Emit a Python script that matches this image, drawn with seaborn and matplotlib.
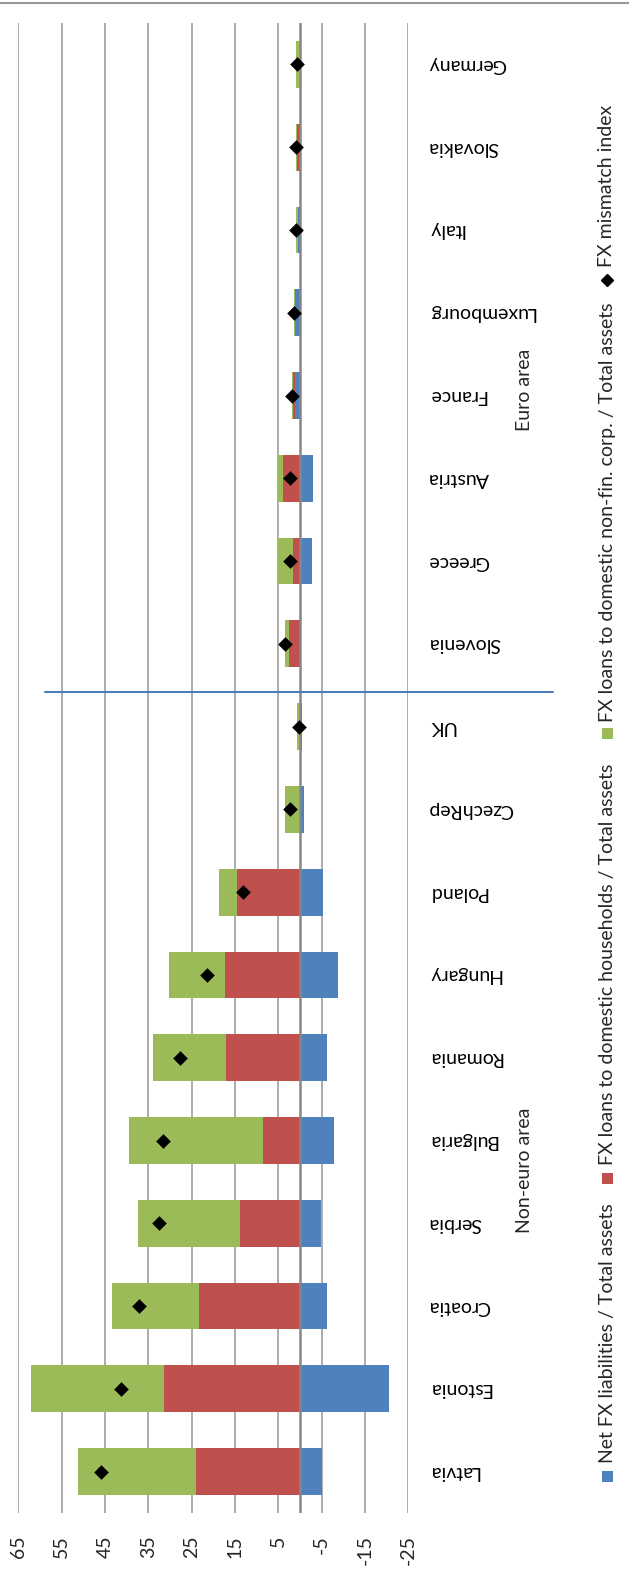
import matplotlib
matplotlib.use("Agg")
import numpy as np
import pandas as pd
import matplotlib.pyplot as plt
import seaborn as sns
from matplotlib.lines import Line2D
from matplotlib.patches import Rectangle

# ---- data (% of total assets) ----
countries = ["Latvia", "Estonia", "Croatia", "Serbia", "Bulgaria", "Romania",
             "Hungary", "Poland", "CzechRep", "UK", "Slovenia", "Greece",
             "Austria", "France", "Luxembourg", "Italy", "Slovakia", "Germany"]
net_fx_liab = [-5.1, -20.6, -6.3, -4.9, -7.8, -6.2, -8.8, -5.4, -0.9, -0.4,
               0.15, -2.7, -2.9, 1.1, 1.1, 0.4, 0.0, -0.15]
hh_loans = [24.0, 31.4, 23.3, 13.8, 8.6, 17.1, 17.2, 14.6, 0.1, 0.05,
            2.3, 1.5, 3.9, 0.4, 0.0, 0.05, 0.8, 0.0]
corp_loans = [27.3, 30.6, 20.1, 23.6, 30.8, 16.7, 13.0, 4.2, 3.3, 0.6,
              0.9, 3.6, 1.15, 0.35, 0.25, 0.4, 0.05, 0.85]
mismatch_index = [46.0, 41.4, 37.1, 32.5, 31.5, 27.7, 21.4, 13.2, 2.4, 0.3,
                  3.5, 2.4, 2.3, 1.9, 1.4, 0.9, 0.85, 0.7]
value_ticks = [65, 55, 45, 35, 25, 15, 5, -5, -15, -25]

legend_labels = ["Net FX liabilities / Total assets",
                 "FX loans to domestic households / Total assets",
                 "FX loans to domestic non-fin. corp. / Total assets",
                 "FX mismatch index"]
group_labels = ["Non-euro area", "Euro area"]

BLUE, RED, GREEN = "#4f81bd", "#c0504d", "#9bbb59"

sns.set_style("white")
plt.rcParams["font.family"] = ["Lato", "DejaVu Sans"]
FS = 14

W, H = 629, 1579
fig = plt.figure(figsize=(W / 100, H / 100), dpi=100)


def fx(px):
    return px / W


def fy(py):
    return 1 - py / H


ax = fig.add_axes([fx(18.3), fy(1513), 390 / W, (1513 - 23) / H])

n = len(countries)
pos = np.arange(n)

# stacked bars: positives stack upward from zero, negatives separately
pos_base = np.zeros(n)
neg_base = np.zeros(n)
for vals, col in [(net_fx_liab, BLUE), (hh_loans, RED), (corp_loans, GREEN)]:
    v = np.asarray(vals, dtype=float)
    left = np.where(v >= 0, pos_base, neg_base)
    ax.barh(pos, v, left=left, height=0.565, color=col, linewidth=0, zorder=2)
    pos_base += np.where(v >= 0, v, 0)
    neg_base += np.where(v < 0, v, 0)

df = pd.DataFrame({"idx": mismatch_index, "pos": pos})
sns.scatterplot(data=df, x="idx", y="pos", marker="D", s=56, color="black",
                edgecolor="black", linewidth=0, zorder=5, ax=ax, legend=False)

# gridlines and zero axis
for v in value_ticks:
    ax.axvline(v, color="#a6a6a6", lw=1.3, zorder=1)
ax.axvline(0, color="#868686", lw=1.8, zorder=3)

ax.set_xlim(65, -25)
ax.set_ylim(-0.5, n - 0.5)
ax.set_xticks(value_ticks)
ax.set_xticklabels([str(t) for t in value_ticks])
ax.set_yticks([])
ax.set_xlabel("")
ax.set_ylabel("")
ax.tick_params(axis="x", length=0, pad=16, labelsize=FS, labelrotation=90)
for s in ax.spines.values():
    s.set_visible(False)

# category labels
for i, c in enumerate(countries):
    ax.text(1.0505, i, c, transform=ax.get_yaxis_transform(), rotation=180,
            ha="left", va="center", fontsize=FS, color="black")

# group labels and separator
fig.text(fx(525), fy(1170), group_labels[0], rotation=90, ha="center",
         va="center", fontsize=FS)
fig.text(fx(525), fy(390), group_labels[1], rotation=90, ha="center",
         va="center", fontsize=FS)
fig.add_artist(Line2D([fx(45), fx(553)], [fy(692), fy(692)],
                      color="#4a7ebb", lw=1.5))

# top border
fig.add_artist(Line2D([0, 1], [fy(3), fy(3)], color="#9a9a9a", lw=1.5))

# legend
sq = 11
for col, yc in [(BLUE, 1476), (RED, 1178), (GREEN, 733)]:
    fig.add_artist(Rectangle((fx(607 - sq / 2), fy(yc + sq / 2)), sq / W, sq / H,
                             transform=fig.transFigure, color=col, lw=0))
fig.add_artist(Line2D([fx(607)], [fy(280)], marker="D", ms=6.5,
                      color="black", lw=0))
for lab, ys in zip(legend_labels, [1463, 1165, 722, 267]):
    fig.text(fx(607), fy(ys), lab, rotation=90, ha="center", va="bottom",
             fontsize=FS)

fig.savefig("out.png", dpi=100)
